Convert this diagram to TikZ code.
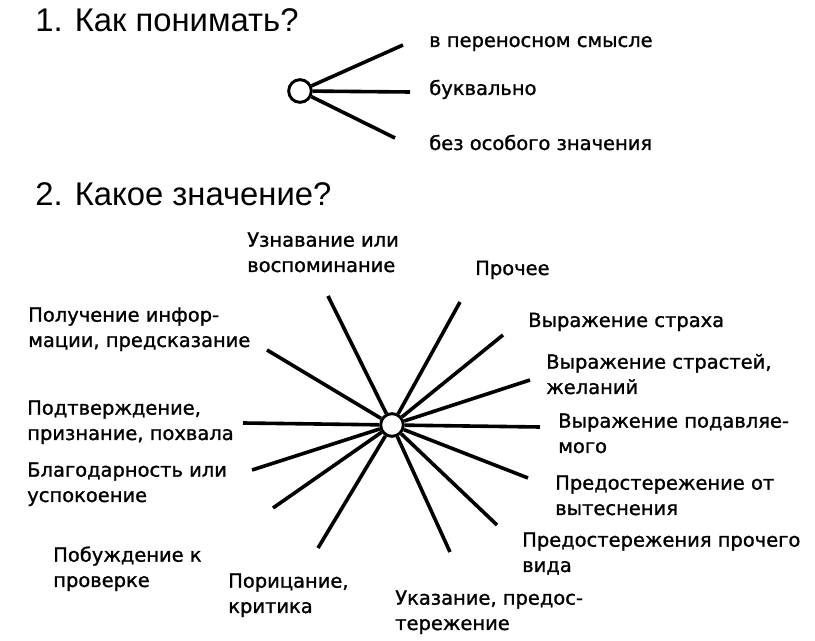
\documentclass[tikz,border=0pt]{standalone}
\usepackage{fontspec}
\setmainfont[FakeBold=1.2]{DejaVu Sans}
\newfontfamily\headfont{Liberation Sans}
\usetikzlibrary{positioning}

\begin{document}
\begin{tikzpicture}[
  x=0.75pt, y=-0.75pt,
  head/.style={anchor=base west, inner sep=0pt, font=\headfont\fontsize{24.6pt}{28pt}\selectfont},
  lab/.style={anchor=base west, inner sep=0pt, align=left, font=\fontsize{14.6pt}{19pt}\selectfont},
  hub/.style={draw, circle, line width=2.2pt, minimum size=17pt, inner sep=0pt, fill=white},
  spoke/.style={line width=2.7pt}
]
\useasboundingbox (0,0) rectangle (815,641);

% ---------- Question 1 ----------
\node[head] (q1) at (35,32) {1. Как понимать?};
\node[hub] (hub1) at (300,91) {};
\node[lab] (fig)  at (429,47)  {в переносном смысле};
\node[lab] (lit)  at (429,95)  {буквально};
\node[lab] (none) at (429,150) {без особого значения};
\coordinate (f1) at (403,45);
\coordinate (f2) at (410,92);
\coordinate (f3) at (395,138);
\draw[spoke] (hub1) -- (f1);
\draw[spoke] (hub1) -- (f2);
\draw[spoke] (hub1) -- (f3);

% ---------- Question 2 ----------
\node[head] (q2) at (35,206) {2. Какое значение?};

% ---------- Spoke ends ----------
\coordinate (s1)  at (328,296);
\coordinate (s2)  at (460,302);
\coordinate (s3)  at (503,335);
\coordinate (s4)  at (530,380);
\coordinate (s5)  at (540,427);
\coordinate (s6)  at (528,478);
\coordinate (s7)  at (497,525);
\coordinate (s8)  at (450,552);
\coordinate (s9)  at (318,548);
\coordinate (s10) at (273,508);
\coordinate (s11) at (252,470);
\coordinate (s12) at (243,423);
\coordinate (s13) at (267,350);

\node[hub] (hub2) at (392,425) {};
\draw[spoke] (hub2) -- (s1);
\draw[spoke] (hub2) -- (s2);
\draw[spoke] (hub2) -- (s3);
\draw[spoke] (hub2) -- (s4);
\draw[spoke] (hub2) -- (s5);
\draw[spoke] (hub2) -- (s6);
\draw[spoke] (hub2) -- (s7);
\draw[spoke] (hub2) -- (s8);
\draw[spoke] (hub2) -- (s9);
\draw[spoke] (hub2) -- (s10);
\draw[spoke] (hub2) -- (s11);
\draw[spoke] (hub2) -- (s12);
\draw[spoke] (hub2) -- (s13);

% ---------- Labels (anchored at the last line) ----------
\node[lab] (recog)   at (247,272) {Узнавание или\\воспоминание};
\node[lab] (other)   at (475,275) {Прочее};
\node[lab] (fear)    at (528,327) {Выражение страха};
\node[lab] (desire)  at (546,394) {Выражение страстей,\\желаний};
\node[lab] (supp)    at (558,453) {Выражение подавляе-\\мого};
\node[lab] (warnrep) at (555,515) {Предостережение от\\вытеснения};
\node[lab] (warnoth) at (522,572) {Предостережения прочего\\вида};
\node[lab] (hint)    at (395,630) {Указание, предос-\\тережение};
\node[lab] (blame)   at (228,613) {Порицание,\\критика};
\node[lab] (check)   at (53,587)  {Побуждение к\\проверке};
\node[lab] (thanks)  at (27,502)  {Благодарность или\\успокоение};
\node[lab] (praise)  at (27,440)  {Подтверждение,\\признание, похвала};
\node[lab] (info)    at (28,347)  {Получение инфор-\\мации, предсказание};
\end{tikzpicture}
\end{document}
